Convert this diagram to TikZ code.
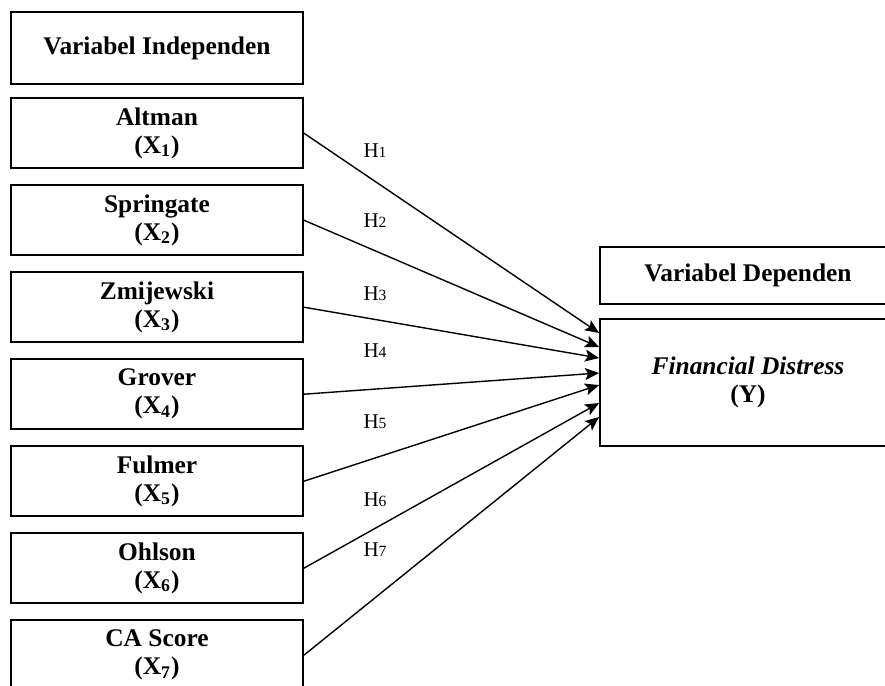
\documentclass[tikz,border=0pt]{standalone}
\usepackage{fontspec}
\setmainfont{Liberation Serif}
\usetikzlibrary{arrows.meta,positioning}
\newcommand{\hyplabel}[1]{H{\fontsize{7.8}{9}\selectfont #1}}

\begin{document}
\begin{tikzpicture}[
      x=0.5pt,y=-0.5pt,
      node distance=7.6pt and 7.6pt,
      box/.style={draw=black,line width=0.9pt,minimum width=146pt,minimum height=35pt,align=center,inner sep=0pt,font=\fontsize{12.7}{14}\selectfont\bfseries},
      depbox/.style={box,minimum width=148pt},
      hyp/.style={font=\fontsize{10.5}{12}\selectfont,inner sep=1pt},
      arr/.style={-{Stealth[length=7pt,width=6pt,inset=1.5pt]},line width=0.7pt}
    ]
    \useasboundingbox (0,0) rectangle (885,686);
    % independent variables
    \node[box,minimum height=36pt] (indep) at (157,48) {Variabel Independen};
    \node[box,below=6.2pt of indep] (x1) {Altman\\(X\textsubscript{1})};
    \node[box,below=of x1] (x2) {Springate\\(X\textsubscript{2})};
    \node[box,below=of x2] (x3) {Zmijewski\\(X\textsubscript{3})};
    \node[box,below=of x3] (x4) {Grover\\(X\textsubscript{4})};
    \node[box,below=of x4] (x5) {Fulmer\\(X\textsubscript{5})};
    \node[box,below=of x5] (x6) {Ohlson\\(X\textsubscript{6})};
    \node[box,below=of x6] (x7) {CA Score\\(X\textsubscript{7})};
    % dependent variable
    \node[depbox,minimum height=28.5pt] (dep) at (748,275.5) {Variabel Dependen};
    \node[depbox,minimum height=63.5pt,below=6.6pt of dep] (fd) {\textit{Financial Distress}\\(Y)};
    % hypotheses
    \node[hyp] (h1) at (375,151) {\hyplabel{1}};
    \node[hyp] (h2) at (375,221) {\hyplabel{2}};
    \node[hyp] (h3) at (375,294) {\hyplabel{3}};
    \node[hyp] (h4) at (375,351) {\hyplabel{4}};
    \node[hyp] (h5) at (375,422) {\hyplabel{5}};
    \node[hyp] (h6) at (375,500) {\hyplabel{6}};
    \node[hyp] (h7) at (375,550) {\hyplabel{7}};
    \foreach \i/\dy in {1/24.75,2/17.75,3/12.25,4/4.75,5/-1.25,6/-10.25,7/-17.25}
      \draw[arr] (x\i.east) -- ([yshift=\dy pt]fd.west);
  \end{tikzpicture}
\end{document}
